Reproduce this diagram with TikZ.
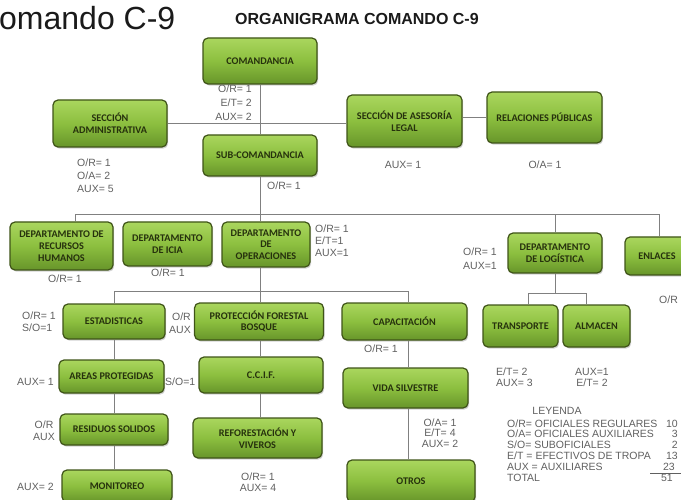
\documentclass[tikz,border=0pt]{standalone}
\usepackage{fontspec}
\setmainfont{Liberation Sans}
\newfontfamily\boxfont{Carlito}
\usetikzlibrary{shadows}
\definecolor{boxtop}{HTML}{AAD65E}
\definecolor{boxmid}{HTML}{8CBF3F}
\definecolor{boxbot}{HTML}{67952A}
\definecolor{boxedge}{HTML}{3F5418}
\definecolor{boxtext}{HTML}{26310D}
\definecolor{labgray}{HTML}{606060}
\definecolor{linegray}{HTML}{808080}
\definecolor{titlecol}{HTML}{1A1A1A}
\pgfdeclarelayer{background}
\pgfsetlayers{background,main}
\begin{document}
\begin{tikzpicture}[x=1pt,y=-1pt,
  box/.style={draw=boxedge, line width=1.2pt, rounded corners=5pt,
    top color=boxtop, bottom color=boxbot, middle color=boxmid,
    drop shadow={shadow xshift=1.2pt, shadow yshift=-1.6pt, opacity=0.35},
    font=\boxfont\bfseries\fontsize{10.2}{11.7}\selectfont, text=boxtext,
    align=center, inner sep=2pt},
  bx/.style 2 args={minimum width=#1, minimum height=#2},
  conn/.style={draw=linegray, line width=0.9pt},
  lab/.style={font=\fontsize{10.5}{13}\selectfont, text=labgray, inner sep=0pt},
  legtext/.style={font=\fontsize{10.5}{12}\selectfont, text=labgray, inner sep=0pt}
]
\useasboundingbox (0,0) rectangle (681,500);

% titles
\node[anchor=base west, font=\fontsize{32}{32}\selectfont, text=titlecol, inner sep=0pt] (t1) at (-1,30) {omando C-9};
\node[anchor=base west, font=\bfseries\fontsize{16}{16}\selectfont, text=titlecol, inner sep=0pt] (t2) at (235,25) {ORGANIGRAMA COMANDO C-9};

% boxes
\node[box, bx={114pt}{46pt}] (com) at (260,61) {COMANDANCIA};
\node[box, bx={114pt}{47pt}] (adm) at (110,123.5) {SECCIÓN\\ADMINISTRATIVA};
\node[box, bx={114pt}{41pt}] (sub) at (260,155.5) {SUB-COMANDANCIA};
\node[box, bx={115pt}{52pt}] (leg) at (404.5,121) {SECCIÓN DE ASESORÍA\\LEGAL};
\node[box, bx={115pt}{51pt}] (rp) at (544.5,117.5) {RELACIONES PÚBLICAS};
\node[box, bx={103pt}{48pt}] (rh) at (61.5,246) {DEPARTAMENTO DE\\RECURSOS\\HUMANOS};
\node[box, bx={89pt}{44pt}] (icia) at (167.5,244) {DEPARTAMENTO\\DE ICIA};
\node[box, bx={88pt}{45pt}] (ope) at (266,244.5) {DEPARTAMENTO\\DE\\OPERACIONES};
\node[box, bx={94pt}{40pt}] (log) at (555,253) {DEPARTAMENTO\\DE LOGÍSTICA};
\node[box, bx={64pt}{38pt}] (enl) at (657,256) {ENLACES};
\node[box, bx={102pt}{35pt}] (est) at (114,321.5) {ESTADISTICAS};
\node[box, bx={129pt}{37pt}] (pro) at (259,321.5) {PROTECCIÓN FORESTAL\\BOSQUE};
\node[box, bx={125pt}{37pt}] (cap) at (404.5,321.5) {CAPACITACIÓN};
\node[box, bx={75pt}{42pt}] (tra) at (520.5,326) {TRANSPORTE};
\node[box, bx={67pt}{42pt}] (alm) at (596.5,326) {ALMACEN};
\node[box, bx={105pt}{33pt}] (are) at (111.5,376.5) {AREAS PROTEGIDAS};
\node[box, bx={124pt}{36pt}] (ccif) at (261,375) {C.C.I.F.};
\node[box, bx={125pt}{40pt}] (vid) at (405.5,388) {VIDA SILVESTRE};
\node[box, bx={108pt}{31pt}] (res) at (114,429.5) {RESIDUOS SOLIDOS};
\node[box, bx={129pt}{40pt}] (ref) at (257.5,438) {REFORESTACIÓN Y\\VIVEROS};
\node[box, bx={110pt}{32pt}] (mon) at (117,486) {MONITOREO};
\node[box, bx={128pt}{42pt}] (otr) at (411,481) {OTROS};

% connectors
\begin{pgfonlayer}{background}
\coordinate (busL) at (75,214);
\coordinate (busR) at (659,214);
\coordinate (ob1) at (114,291);
\coordinate (ob2) at (408,291);
\coordinate (lb1) at (528,293);
\coordinate (lb2) at (586,293);
\draw[conn] (com.south) -- (sub.north);
\draw[conn] (adm.east) -- (adm.east -| leg.west);
\draw[conn] (rp.west) -- (rp.west -| leg.east);
\draw[conn] (sub.south) -- (sub.south |- ope.north);
\draw[conn] (rh.north -| busL) -- (busL) -- (busR) -- (busR |- enl.north);
\draw[conn] (log.north) -- (log.north |- busL);
\draw[conn] (ope.south -| sub.south) -- (sub.south |- pro.north);
\draw[conn] (est.north) -- (ob1) -- (ob2) -- (ob2 |- cap.north);
\draw[conn] (est.south) -- (est.south |- are.north);
\draw[conn] (are.south -| est.south) -- (est.south |- res.north);
\draw[conn] (res.south) -- (res.south |- mon.north);
\draw[conn] (pro.south -| sub.south) -- (sub.south |- ccif.north);
\draw[conn] (ccif.south -| sub.south) -- (sub.south |- ref.north);
\draw[conn] (cap.south -| ob2) -- (ob2 |- vid.north);
\draw[conn] (vid.south -| ob2) -- (ob2 |- otr.north);
\draw[conn] (log.south) -- (log.south |- lb1);
\draw[conn] (lb1 |- tra.north) -- (lb1) -- (lb2) -- (lb2 |- alm.north);
\end{pgfonlayer}

% personnel labels
\node[lab, align=right, anchor=east, font=\fontsize{10.5}{14}\selectfont] (lcom) at (252,103) {O/R= 1\\E/T= 2\\AUX= 2};
\node[lab, align=left, anchor=west] (ladm) at (77,176) {O/R= 1\\O/A= 2\\AUX= 5};
\node[lab, anchor=west] (lsub) at (267,186) {O/R= 1};
\node[lab] (lleg) at (403,165) {AUX= 1};
\node[lab] (lrp) at (545,165) {O/A= 1};
\node[lab] (lrh) at (65,279) {O/R= 1};
\node[lab] (licia) at (168,273) {O/R= 1};
\node[lab, align=left, anchor=west, font=\fontsize{10.5}{12}\selectfont] (lope) at (315,241) {O/R= 1\\E/T=1\\AUX=1};
\node[lab, align=left, anchor=east, font=\fontsize{10.5}{14}\selectfont] (llog) at (497,259) {O/R= 1\\AUX=1};
\node[lab, anchor=west] (lenl) at (659,300) {O/R};
\node[lab, align=left, anchor=west, font=\fontsize{10.5}{12}\selectfont] (lest) at (22,322) {O/R= 1\\S/O=1};
\node[lab, align=right, anchor=east] (lpro) at (191,323) {O/R\\AUX};
\node[lab] (lcap) at (381,349) {O/R= 1};
\node[lab, align=left, anchor=west, font=\fontsize{10.5}{11}\selectfont] (ltra) at (496,377) {E/T= 2\\AUX= 3};
\node[lab, align=center, font=\fontsize{10.5}{11}\selectfont] (lalm) at (592,377) {AUX=1\\E/T= 2};
\node[lab, anchor=west] (lare) at (17,382) {AUX= 1};
\node[lab, anchor=west] (lare2) at (165,382) {S/O=1};
\node[lab, align=center, font=\fontsize{10.5}{12}\selectfont] (lres) at (44,431) {O/R\\AUX};
\node[lab, anchor=west] (lmon) at (17,487) {AUX= 2};
\node[lab, align=center, font=\fontsize{10.5}{11}\selectfont] (lref) at (258,482) {O/R= 1\\AUX= 4};
\node[lab, align=center, font=\fontsize{10.5}{10.5}\selectfont] (lvid) at (440,433) {O/A= 1\\E/T= 4\\AUX= 2};

% legend
\node[legtext, anchor=base] (lgh) at (557,414.5) {LEYENDA};
\node[legtext, anchor=base west] (lg1) at (507,427) {O/R= OFICIALES REGULARES};
\node[legtext, anchor=base west] (lg2) at (507,437.8) {O/A= OFICIALES AUXILIARES};
\node[legtext, anchor=base west] (lg3) at (507,448.6) {S/O= SUBOFICIALES};
\node[legtext, anchor=base west] (lg4) at (507,459.4) {E/T = EFECTIVOS DE TROPA};
\node[legtext, anchor=base west] (lg5) at (507,470.2) {AUX = AUXILIARES};
\node[legtext, anchor=base west] (lg6) at (507,481) {TOTAL};
\node[legtext, anchor=base east] (ln1) at (678,427) {10};
\node[legtext, anchor=base east] (ln2) at (678,437.8) {3};
\node[legtext, anchor=base east] (ln3) at (678,448.6) {2};
\node[legtext, anchor=base east] (ln4) at (678,459.4) {13};
\node[legtext, anchor=base east] (ln5) at (675,470.2) {23};
\node[legtext, anchor=base east] (ln6) at (673,481) {51};
\draw[labgray, line width=0.6pt] (650,472.8) -- (681,472.8);
\end{tikzpicture}
\end{document}
